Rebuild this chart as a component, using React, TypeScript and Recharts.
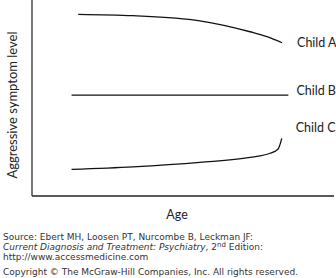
import { LineChart, Line, XAxis, YAxis } from "recharts";

// age runs 0..100 along the axis, symptom level 0..100 up the axis
const childA = [
  { age: 15.3, level: 92.7 },
  { age: 33.4, level: 92.0 },
  { age: 55.6, level: 89.4 },
  { age: 72.2, level: 83.8 },
  { age: 77.8, level: 81.3 },
  { age: 82.8, level: 78.2 },
];
const childB = [
  { age: 13.1, level: 51.5 },
  { age: 84.9, level: 51.5 },
];
const childC = [
  { age: 13.1, level: 13.6 },
  { age: 33.4, level: 14.9 },
  { age: 55.6, level: 17.2 },
  { age: 72.2, level: 19.7 },
  { age: 78.8, level: 21.8 },
  { age: 81.5, level: 24.0 },
  { age: 82.7, level: 29.4 },
];

const seriesNames = ["Child A", "Child B", "Child C"];
const xTitle = "Age";
const yTitle = "Aggressive symptom level";
const sourceLines = [
  "Source: Ebert MH, Loosen PT, Nurcombe B, Leckman JF:",
  "http://www.accessmedicine.com",
];
const bookTitle = "Current Diagnosis and Treatment: Psychiatry";
const copyright = "Copyright \u00a9 The McGraw-Hill Companies, Inc. All rights reserved.";

const FONT = "Lato, 'Open Sans', sans-serif";
const SMALL = "'DejaVu Sans', Verdana, sans-serif";

function endLabel(text: string, count: number, dx: number, dy: number) {
  return (props: any) => {
    if (props.index !== count - 1) return null;
    return (
      <text
        key={text}
        x={props.x + dx}
        y={props.y + dy}
        dominantBaseline="central"
        fontFamily={FONT}
        fontSize={12.5}
        fill="#222"
      >
        {text}
      </text>
    );
  };
}

export default function App() {
  const lineStyle = { stroke: "#111", strokeWidth: 1.3, dot: false, isAnimationActive: false };
  return (
    <div style={{ position: "absolute", left: 0, top: 0, width: 336, height: 278, background: "#fff" }}>
      <LineChart width={336} height={200} margin={{ top: 0, right: 2, left: 31, bottom: 3 }}>
        <XAxis
          type="number"
          dataKey="age"
          domain={[0, 100]}
          tick={false}
          tickLine={false}
          height={1}
          axisLine={{ stroke: "#222", strokeWidth: 1.3 }}
        />
        <YAxis
          type="number"
          dataKey="level"
          domain={[0, 100]}
          tick={false}
          tickLine={false}
          width={1}
          axisLine={{ stroke: "#333", strokeWidth: 1.3 }}
        />
        <Line data={childA} dataKey="level" type="monotone" {...lineStyle} label={endLabel(seriesNames[0], childA.length, 15, 0)} />
        <Line data={childB} dataKey="level" type="monotone" {...lineStyle} label={endLabel(seriesNames[1], childB.length, 8, -5)} />
        <Line data={childC} dataKey="level" type="monotone" {...lineStyle} label={endLabel(seriesNames[2], childC.length, 14, -11)} />
      </LineChart>

      <div
        style={{
          position: "absolute",
          left: 12,
          top: 105,
          transform: "translate(-50%, -50%) rotate(-90deg)",
          whiteSpace: "nowrap",
          fontFamily: FONT,
          fontSize: 13,
          color: "#222",
        }}
      >
        {yTitle}
      </div>
      <div
        style={{
          position: "absolute",
          left: 177,
          top: 214,
          transform: "translate(-50%, -50%)",
          fontFamily: FONT,
          fontSize: 12.5,
          color: "#222",
        }}
      >
        {xTitle}
      </div>
      <div
        style={{
          position: "absolute",
          left: 3,
          top: 232,
          fontFamily: SMALL,
          fontSize: 9,
          lineHeight: "10px",
          color: "#333",
          whiteSpace: "nowrap",
        }}
      >
        <div>{sourceLines[0]}</div>
        <div>
          <i>{bookTitle}</i>, 2<sup style={{ fontSize: 7, lineHeight: 0, verticalAlign: "3px" }}>nd</sup> Edition:
        </div>
        <div>{sourceLines[1]}</div>
        <div style={{ marginTop: 5 }}>{copyright}</div>
      </div>
    </div>
  );
}
